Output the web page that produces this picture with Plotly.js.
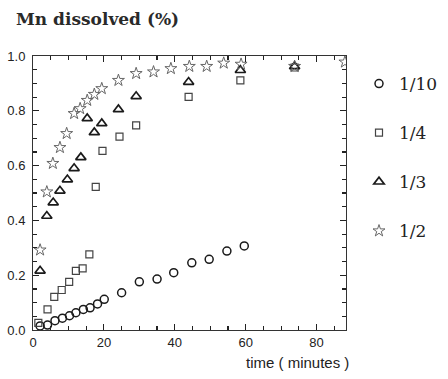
<!DOCTYPE html>
<html>
<head>
<meta charset="utf-8">
<script src="https://cdn.plot.ly/plotly-3.0.1.min.js"></script>
<style>html,body{margin:0;padding:0;background:#fff;}#chart{width:448px;height:379px;}</style>
</head>
<body>
<div id="chart"></div>
<script>
// Series names
const seriesNames = ["1/10", "1/4", "1/3", "1/2"];

// 1/10 (circles)
const tCircle = [2, 4.1, 6.2, 8.3, 10.3, 12.1, 14.2, 16.1, 18.2, 20.1, 25, 30, 35, 39.7, 44.8, 49.7, 54.7, 59.6];
const yCircle = [0.015, 0.018, 0.034, 0.043, 0.052, 0.063, 0.075, 0.081, 0.095, 0.112, 0.136, 0.176, 0.186, 0.209, 0.245, 0.258, 0.288, 0.307];

// 1/4 (squares)
const tSquare = [1.5, 4.1, 6.0, 8.1, 10.2, 12.1, 14.0, 15.9, 17.7, 19.6, 24.4, 29.1, 43.9, 58.5, 73.8];
const ySquare = [0.026, 0.075, 0.121, 0.146, 0.176, 0.216, 0.225, 0.276, 0.522, 0.654, 0.706, 0.747, 0.851, 0.911, 0.958];

// 1/3 (triangles)
const tTri = [2.0, 3.9, 5.7, 7.6, 9.7, 11.6, 13.5, 15.3, 17.3, 19.4, 24.1, 29.1, 43.9, 58.5, 73.8];
const yTri = [0.216, 0.416, 0.465, 0.508, 0.549, 0.590, 0.630, 0.772, 0.721, 0.754, 0.805, 0.853, 0.905, 0.948, 0.962];

// 1/2 (stars)
const tStar = [2.0, 3.9, 5.6, 7.6, 9.5, 11.6, 13.3, 15.3, 17.3, 19.4, 24.1, 29.1, 34.0, 38.9, 44.1, 49.0, 53.8, 58.7, 73.8, 88];
const yStar = [0.292, 0.504, 0.608, 0.666, 0.717, 0.790, 0.808, 0.838, 0.860, 0.881, 0.911, 0.936, 0.942, 0.954, 0.962, 0.962, 0.974, 0.970, 0.962, 0.978];

// Axis ticks
const xRange = [0, 88.3];
const yRange = [0, 1];
const xTickVals = [0, 20, 40, 60, 80];
const xTickText = ["0", "20", "40", "60", "80"];
const yTickVals = [0, 0.2, 0.4, 0.6, 0.8, 1.0];
const yTickText = ["0.0", "0.2", "0.4", "0.6", "0.8", "1.0"];

const traces = [
  {x: tCircle, y: yCircle, name: seriesNames[0], legendgroup: "a", type: "scatter", mode: "markers",
   marker: {symbol: "circle-open", size: 8, color: "#1a1a1a", line: {width: 1.5, color: "#1a1a1a"}}},
  {x: tSquare, y: ySquare, name: seriesNames[1], legendgroup: "b", type: "scatter", mode: "markers",
   marker: {symbol: "square-open", size: 7, color: "#444", line: {width: 1.2, color: "#444"}}},
  {x: tTri, y: yTri, name: seriesNames[2], legendgroup: "c", type: "scatter", mode: "markers",
   marker: {symbol: "triangle-up-open", size: 9, color: "#1a1a1a", line: {width: 1.7, color: "#1a1a1a"}}},
  {x: tStar, y: yStar, name: seriesNames[3], legendgroup: "d", type: "scatter", mode: "markers",
   marker: {symbol: "star-open", size: 9, color: "#666", line: {width: 1, color: "#666"}}},
  // invisible copy on the top/right tick axes so that they get drawn
  {x: tStar, y: yStar, xaxis: "x2", yaxis: "y2", type: "scatter", mode: "markers",
   marker: {opacity: 0, size: 1}, showlegend: false, hoverinfo: "skip"}
];

const tickFont = {family: "Liberation Sans, Arial, sans-serif", size: 13, color: "#222"};
const axisCommon = {
  showline: true, linecolor: "#333", linewidth: 1, mirror: true,
  ticks: "inside", ticklen: 6, tickcolor: "#222", tickwidth: 1.2,
  showgrid: false, zeroline: false, tickfont: tickFont
};
const mirrorAxis = {
  showticklabels: false, ticks: "inside", ticklen: 6, tickcolor: "#222", tickwidth: 1.2,
  showgrid: false, zeroline: false, showline: false
};

const layout = {
  width: 448, height: 379,
  margin: {l: 33, r: 102, t: 56, b: 49, pad: 0},
  paper_bgcolor: "#fff", plot_bgcolor: "#fff",
  title: {text: "Mn dissolved (%)", x: 16/448, xanchor: "left", xref: "container",
          y: 1 - 19/379, yanchor: "middle", yref: "container",
          font: {family: "DejaVu Serif, serif", size: 17, color: "#2a2a2a", weight: "bold"}},
  xaxis: Object.assign({}, axisCommon, {
    range: xRange, tickvals: xTickVals, ticktext: xTickText,
    minor: {dtick: 5, ticklen: 4, ticks: "inside", tickcolor: "#222", tickwidth: 1.2}
  }),
  yaxis: Object.assign({}, axisCommon, {
    range: yRange, tickvals: yTickVals, ticktext: yTickText,
    ticklabelstandoff: 4,
    minor: {dtick: 0.05, ticklen: 4, ticks: "inside", tickcolor: "#222", tickwidth: 1.2}
  }),
  xaxis2: Object.assign({}, mirrorAxis, {overlaying: "x", side: "top", anchor: "y2",
    range: xRange, tickvals: xTickVals,
    minor: {dtick: 5, ticklen: 4, ticks: "inside", tickcolor: "#222", tickwidth: 1.2}}),
  yaxis2: Object.assign({}, mirrorAxis, {overlaying: "y", side: "right", anchor: "x2",
    range: yRange, tickvals: yTickVals,
    minor: {dtick: 0.05, ticklen: 4, ticks: "inside", tickcolor: "#222", tickwidth: 1.2}}),
  showlegend: true,
  legend: {
    xref: "container", yref: "container",
    x: 359/448, xanchor: "left", y: 1 - 66/379, yanchor: "top",
    traceorder: "grouped", tracegroupgap: 24,
    font: {family: "DejaVu Serif, serif", size: 17, color: "#222"},
    bgcolor: "rgba(0,0,0,0)", borderwidth: 0
  },
  annotations: [
    {text: "time ( minutes )", xref: "paper", yref: "paper", x: 1.015, y: 0, xanchor: "right", yanchor: "top",
     yshift: -22, showarrow: false,
     font: {family: "Liberation Sans, Arial, sans-serif", size: 15, color: "#222"}}
  ]
};

Plotly.newPlot("chart", traces, layout, {displayModeBar: false, staticPlot: true});
</script>
</body>
</html>
